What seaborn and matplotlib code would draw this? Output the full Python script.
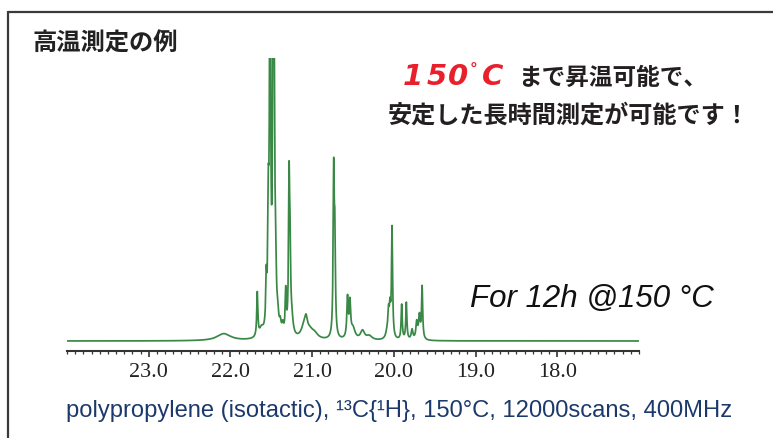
import numpy as np
import pandas as pd
import matplotlib
matplotlib.use("Agg")
import matplotlib.pyplot as plt
from matplotlib.lines import Line2D
import seaborn as sns

# ---------------- data ----------------
# peak table of the 13C spectrum: position (ppm), height (arb.), half width (ppm)
peak_ppm = [22.08, 21.671, 21.62, 21.561, 21.536, 21.515, 21.476, 21.463, 21.445,
            21.42, 21.39, 21.36, 21.323, 21.282, 21.270, 21.25, 21.10, 21.074,
            21.03, 20.97, 20.736, 20.722, 20.567, 20.537, 20.50, 20.383, 20.30,
            20.08, 20.064, 20.047, 20.022, 19.904, 19.847, 19.777, 19.720,
            19.687, 19.654]
peak_height = [7, 44, 8, 46, 105, 420, 400, 170, 42,
               14, 10, 9, 42, 150, 66, 16, 11, 13,
               7, 5, 160, 90, 40, 34, 11, 9, 4,
               8, 22, 26, 110, 35, 37, 10, 17,
               23, 52]
peak_width = [0.10, 0.008, 0.03, 0.008, 0.008, 0.008, 0.008, 0.008, 0.01,
              0.012, 0.012, 0.012, 0.008, 0.008, 0.008, 0.02, 0.04, 0.02,
              0.05, 0.05, 0.008, 0.008, 0.01, 0.01, 0.03, 0.03, 0.04,
              0.02, 0.009, 0.009, 0.008, 0.008, 0.008, 0.012, 0.012,
              0.012, 0.008]

major_ticks = [23.0, 22.0, 21.0, 20.0, 19.0, 18.0]
major_labels = ["23.0", "22.0", "21.0", "20.0", "19.0", "18.0"]
ppm_range = (24.0, 17.0)

title_text = "高温測定の例"
red_chars = ["1", "5", "0"]
line1_text = "まで昇温可能で、"
line2_text = "安定した長時間測定が可能です！"
note_text = "For 12h @150 °C"
caption_text = "polypropylene (isotactic), ¹³C{¹H}, 150°C, 12000scans, 400MHz"

# ---------------- spectrum from the peak table ----------------
ppm = np.arange(ppm_range[1], ppm_range[0] + 1e-9, 0.001)
intensity = np.zeros_like(ppm)
for p, h, w in zip(peak_ppm, peak_height, peak_width):
    intensity += h * w**2 / ((ppm - p)**2 + w**2)
df = pd.DataFrame({"ppm": ppm, "intensity": intensity})

# ---------------- figure ----------------
sns.set_theme(style="white")
plt.rcParams["font.family"] = ["Liberation Sans", "DejaVu Sans"]

W, H = 773, 439
fig = plt.figure(figsize=(W / 100, H / 100), dpi=100)
fig.patch.set_facecolor("white")

def fx(x):
    return x / W

def fy(y):
    return 1 - y / H

ax = fig.add_axes([fx(67), fy(352), fx(639) - fx(67), fy(59) - fy(352)])
sns.lineplot(data=df, x="ppm", y="intensity", ax=ax, color="#3a8845",
             linewidth=1.25, estimator=None, sort=False)
ax.set_xlim(*ppm_range)
ax.set_ylim(-10, 283)
ax.set_xlabel("")
ax.set_ylabel("")
ax.set_yticks([])
for s in ["left", "right", "top"]:
    ax.spines[s].set_visible(False)
ax.spines["bottom"].set_color("#333333")
ax.spines["bottom"].set_linewidth(1.5)
ax.set_xticks(major_ticks)
ax.set_xticklabels(major_labels, fontfamily="Liberation Serif", fontsize=16,
                   color="#222222")
ax.set_xticks(np.arange(17.0, 24.0001, 0.1), minor=True)
ax.tick_params(axis="x", which="major", direction="out", length=4, width=1.2,
               color="#333333", pad=4, bottom=True)
ax.tick_params(axis="x", which="minor", direction="out", length=1.8, width=0.9,
               color="#333333", bottom=True)
ax.patch.set_alpha(0)

# ---------------- frame (partial box) ----------------
fig.add_artist(Line2D([fx(8), fx(8)], [0, fy(13)], transform=fig.transFigure,
                      color="#3a3a3a", lw=1.6))
fig.add_artist(Line2D([fx(8), 1.0], [fy(13), fy(13)], transform=fig.transFigure,
                      color="#3a3a3a", lw=1.6))

# ---------------- texts ----------------
cjk = ["Noto Sans CJK JP", "DejaVu Sans"]
fig.text(fx(33), fy(44), title_text, family=cjk, fontsize=17.5, fontweight="bold",
         color="#222222", ha="left", va="center")

red = "#e8202c"
for ch, cx in zip(red_chars, [413, 437, 458]):
    fig.text(fx(cx), fy(85), ch, family=["DejaVu Sans"], fontsize=21,
             fontweight="bold", fontstyle="italic", color=red,
             ha="center", va="baseline")
fig.text(fx(474), fy(63), "°", family=["DejaVu Sans"], fontsize=11,
         fontweight="bold", color=red, ha="center", va="top")
fig.text(fx(493), fy(85), "C", family=["DejaVu Sans"], fontsize=21,
         fontweight="bold", fontstyle="italic", color=red,
         ha="center", va="baseline")

fig.text(fx(518), fy(78), line1_text, family=cjk, fontsize=17, fontweight="bold",
         color="#231f20", ha="left", va="center")
fig.text(fx(388), fy(116), line2_text, family=cjk, fontsize=17.4, fontweight="bold",
         color="#231f20", ha="left", va="center")

fig.text(fx(470), fy(307), note_text, family=["Liberation Sans", "DejaVu Sans"],
         fontsize=22.5, fontstyle="italic", color="#111111", ha="left",
         va="baseline")

fig.text(fx(66), fy(417), caption_text, family=["Liberation Sans", "DejaVu Sans"],
         fontsize=17.1, color="#1b3a6b", ha="left", va="baseline")

fig.savefig("out.png", dpi=100, facecolor="white")
